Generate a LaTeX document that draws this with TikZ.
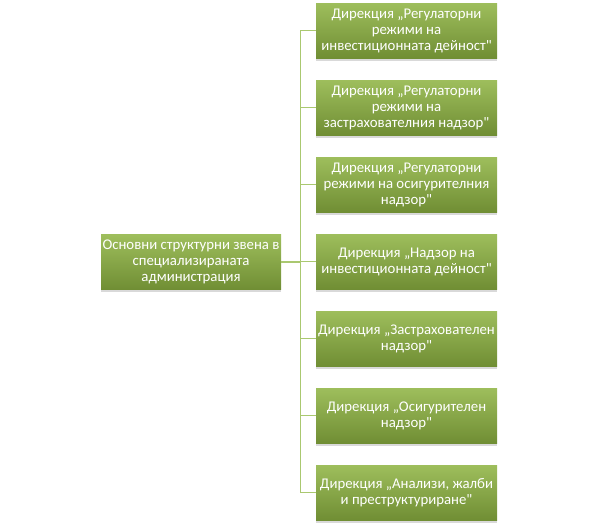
\documentclass[tikz,border=0pt]{standalone}
\usepackage{fontspec}
\setmainfont{Carlito}[Ligatures=TeXOff]
\usetikzlibrary{shadows}
\definecolor{boxtop}{RGB}{158,190,92}
\definecolor{boxbot}{RGB}{112,142,52}
\definecolor{linkgreen}{RGB}{170,200,112}
\tikzset{
  unitbox/.style={rectangle,minimum width=181pt,minimum height=55pt,
    top color=boxtop,bottom color=boxbot,text=white,align=center,
    inner xsep=0pt,inner ysep=2pt,font=\fontsize{14.8}{16}\selectfont,
    drop shadow={shadow xshift=0pt,shadow yshift=-2.5pt,opacity=0.25,fill=black!60}},
  link/.style={draw=linkgreen,line width=1.2pt}
}
\begin{document}
\begin{tikzpicture}[x=1pt,y=-1pt]
    \useasboundingbox (0,0) rectangle (598,528);
    \node[unitbox,minimum width=180pt] (main) at (191,262)
      {Основни структурни звена в\\специализираната\\администрация};
    \foreach \i/\y/\txt in {%
        1/30.5/{Дирекция „Регулаторни\\режими на\\инвестиционната дейност"},%
        2/107.5/{Дирекция „Регулаторни\\режими на\\застрахователния надзор"},%
        3/184.5/{Дирекция „Регулаторни\\режими на осигурителния\\надзор"},%
        4/261.5/{Дирекция „Надзор на\\инвестиционната дейност"},%
        5/338.5/{Дирекция „Застрахователен\\надзор"},%
        6/415.5/{Дирекция „Осигурителен\\надзор"},%
        7/492.5/{Дирекция „Анализи, жалби\\и преструктуриране"}}
      \node[unitbox] (d\i) at (406.5,\y) {\txt};
    \foreach \i in {1,...,7}
      \draw[link] (main.east) -- ++(19,0) |- (d\i.west);
  \end{tikzpicture}
\end{document}
